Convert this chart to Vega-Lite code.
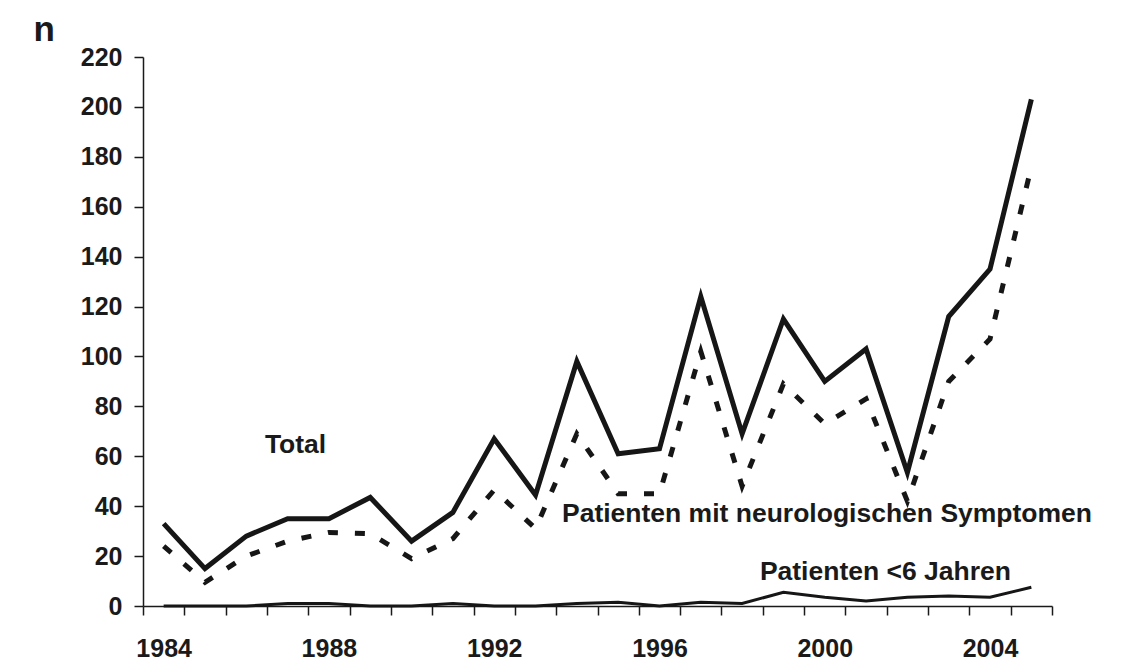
{
  "$schema": "https://vega.github.io/schema/vega-lite/v6.json",
  "width": 909,
  "height": 549,
  "autosize": {"type": "none"},
  "padding": {"left": 143, "top": 57, "right": 71, "bottom": 62},
  "background": "white",
  "config": {"view": {"stroke": null}, "font": "Liberation Sans"},
  "datasets": {
    "series": [
      {"year": 1984, "group": "Total", "n": 33},
      {"year": 1985, "group": "Total", "n": 15},
      {"year": 1986, "group": "Total", "n": 28},
      {"year": 1987, "group": "Total", "n": 35},
      {"year": 1988, "group": "Total", "n": 35},
      {"year": 1989, "group": "Total", "n": 43.5},
      {"year": 1990, "group": "Total", "n": 26},
      {"year": 1991, "group": "Total", "n": 37.5},
      {"year": 1992, "group": "Total", "n": 67},
      {"year": 1993, "group": "Total", "n": 44.5},
      {"year": 1994, "group": "Total", "n": 98},
      {"year": 1995, "group": "Total", "n": 61},
      {"year": 1996, "group": "Total", "n": 63},
      {"year": 1997, "group": "Total", "n": 124},
      {"year": 1998, "group": "Total", "n": 69},
      {"year": 1999, "group": "Total", "n": 115},
      {"year": 2000, "group": "Total", "n": 90},
      {"year": 2001, "group": "Total", "n": 103},
      {"year": 2002, "group": "Total", "n": 53.5},
      {"year": 2003, "group": "Total", "n": 116},
      {"year": 2004, "group": "Total", "n": 135},
      {"year": 2005, "group": "Total", "n": 203},
      {"year": 1984, "group": "Neuro", "n": 24},
      {"year": 1985, "group": "Neuro", "n": 9.5},
      {"year": 1986, "group": "Neuro", "n": 20},
      {"year": 1987, "group": "Neuro", "n": 26},
      {"year": 1988, "group": "Neuro", "n": 29.5},
      {"year": 1989, "group": "Neuro", "n": 29},
      {"year": 1990, "group": "Neuro", "n": 19},
      {"year": 1991, "group": "Neuro", "n": 27},
      {"year": 1992, "group": "Neuro", "n": 46.5},
      {"year": 1993, "group": "Neuro", "n": 31},
      {"year": 1994, "group": "Neuro", "n": 69},
      {"year": 1995, "group": "Neuro", "n": 45},
      {"year": 1996, "group": "Neuro", "n": 45},
      {"year": 1997, "group": "Neuro", "n": 102},
      {"year": 1998, "group": "Neuro", "n": 48},
      {"year": 1999, "group": "Neuro", "n": 89},
      {"year": 2000, "group": "Neuro", "n": 73},
      {"year": 2001, "group": "Neuro", "n": 83},
      {"year": 2002, "group": "Neuro", "n": 42},
      {"year": 2003, "group": "Neuro", "n": 90},
      {"year": 2004, "group": "Neuro", "n": 107},
      {"year": 2005, "group": "Neuro", "n": 176},
      {"year": 1984, "group": "Under6", "n": 0},
      {"year": 1985, "group": "Under6", "n": 0},
      {"year": 1986, "group": "Under6", "n": 0},
      {"year": 1987, "group": "Under6", "n": 1},
      {"year": 1988, "group": "Under6", "n": 1},
      {"year": 1989, "group": "Under6", "n": 0},
      {"year": 1990, "group": "Under6", "n": 0},
      {"year": 1991, "group": "Under6", "n": 1},
      {"year": 1992, "group": "Under6", "n": 0},
      {"year": 1993, "group": "Under6", "n": 0},
      {"year": 1994, "group": "Under6", "n": 1},
      {"year": 1995, "group": "Under6", "n": 1.5},
      {"year": 1996, "group": "Under6", "n": 0},
      {"year": 1997, "group": "Under6", "n": 1.5},
      {"year": 1998, "group": "Under6", "n": 1},
      {"year": 1999, "group": "Under6", "n": 5.5},
      {"year": 2000, "group": "Under6", "n": 3.5},
      {"year": 2001, "group": "Under6", "n": 2},
      {"year": 2002, "group": "Under6", "n": 3.5},
      {"year": 2003, "group": "Under6", "n": 4},
      {"year": 2004, "group": "Under6", "n": 3.5},
      {"year": 2005, "group": "Under6", "n": 7.5}
    ],
    "labels": [
      {"label": "Total", "x": 1986.45, "n": 64.5},
      {"label": "Patienten mit neurologischen Symptomen", "x": 1993.64, "n": 36.9},
      {"label": "Patienten <6 Jahren", "x": 1998.43, "n": 13.6}
    ]
  },
  "resolve": {"scale": {"x": "independent"}},
  "layer": [
    {
      "data": {"name": "series"},
      "encoding": {
        "x": {
          "field": "year", "type": "ordinal", "bandPosition": 0.5,
          "scale": {"type": "band", "paddingInner": 0, "paddingOuter": 0},
          "axis": {
            "title": null, "tickBand": "extent", "labelAngle": 0,
            "labelExpr": "datum.value % 4 == 0 ? datum.label : ''",
            "ticks": true, "tickSize": 9, "tickWidth": 1.5, "tickColor": "#1a1a1a",
            "domainWidth": 1.5, "domainColor": "#1a1a1a",
            "labelFont": "Liberation Sans", "labelFontSize": 25, "labelFontWeight": "bold",
            "labelColor": "#1a1a1a", "labelPadding": 21, "grid": false
          }
        },
        "y": {
          "field": "n", "type": "quantitative",
          "scale": {"domain": [0, 220], "nice": false},
          "axis": {
            "title": "n", "values": [0, 20, 40, 60, 80, 100, 120, 140, 160, 180, 200, 220],
            "grid": false, "ticks": true, "tickSize": 9, "tickWidth": 1.5, "tickColor": "#1a1a1a",
            "domainWidth": 1.5, "domainColor": "#1a1a1a",
            "labelFont": "Liberation Sans", "labelFontSize": 25, "labelFontWeight": "bold",
            "labelColor": "#1a1a1a", "labelPadding": 12,
            "titleAngle": 0, "titleAlign": "left", "titleBaseline": "alphabetic",
            "titleX": -110, "titleY": -17, "titleFont": "Liberation Sans",
            "titleFontSize": 35, "titleFontWeight": "bold", "titleColor": "#1a1a1a"
          }
        }
      },
      "layer": [
        {
          "transform": [{"filter": "datum.group == 'Total'"}],
          "mark": {"type": "line", "stroke": "#161616", "strokeWidth": 5}
        },
        {
          "transform": [{"filter": "datum.group == 'Neuro'"}],
          "mark": {"type": "line", "stroke": "#161616", "strokeWidth": 5, "strokeDash": [10, 17], "strokeCap": "butt"}
        },
        {
          "transform": [{"filter": "datum.group == 'Under6'"}],
          "mark": {"type": "line", "stroke": "#161616", "strokeWidth": 3}
        }
      ]
    },
    {
      "data": {"name": "labels"},
      "mark": {"type": "text", "align": "left", "baseline": "middle", "font": "Liberation Sans", "fontSize": 26.5, "fontWeight": "bold", "fill": "#1a1a1a"},
      "encoding": {
        "x": {"field": "x", "type": "quantitative", "scale": {"domain": [1983.5, 2005.5], "nice": false, "zero": false}, "axis": null},
        "y": {"field": "n", "type": "quantitative"},
        "text": {"field": "label"}
      }
    }
  ]
}
